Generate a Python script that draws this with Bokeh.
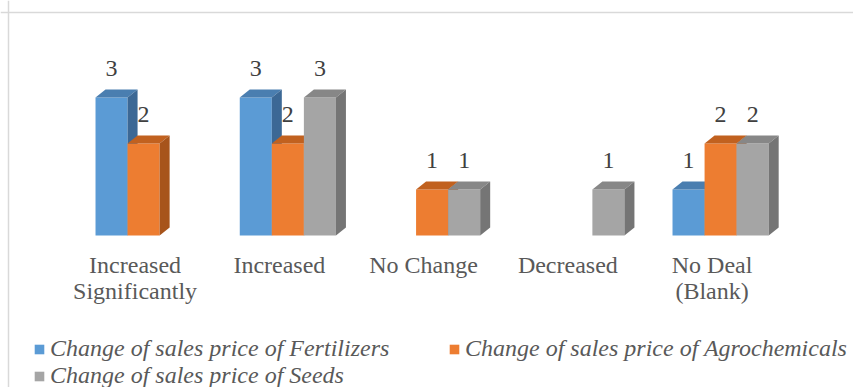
from bokeh.plotting import figure
from bokeh.models import Range1d, Span, Legend, LegendItem
from bokeh.embed import file_html
from bokeh.resources import INLINE
from bokeh.core.properties import value

# ---- data -------------------------------------------------------------
categories = ["Increased\nSignificantly", "Increased", "No Change",
              "Decreased", "No Deal\n(Blank)"]
series_names = ["Change of sales price of Fertilizers",
                "Change of sales price of Agrochemicals",
                "Change of sales price of Seeds"]
fertilizers = [3, 3, 0, 0, 1]
agrochemicals = [2, 2, 1, 0, 2]
seeds = [0, 3, 1, 1, 2]

# ---- styling ------------------------------------------------------------
front_colors = ["#5B9BD5", "#ED7D31", "#A5A5A5"]
top_colors = ["#4A7EB0", "#C1611F", "#878787"]
side_colors = ["#3C6895", "#A7541B", "#757575"]
FONT = "'Liberation Serif', 'Times New Roman', serif"
FONT_SIZE = "24px"
TEXT_COLOR = "#595959"

W, H = 853, 387
PX_X = 144.25      # pixels per category step
PX_Y = 46.0        # pixels per count unit
ORIGIN_X = 143.1   # pixel x of first category centre
BASE_Y = 235.0     # pixel y (from top) of the zero line

x0 = -ORIGIN_X / PX_X
y1 = BASE_Y / PX_Y
p = figure(width=W, height=H,
           x_range=Range1d(x0, x0 + W / PX_X),
           y_range=Range1d(y1 - H / PX_Y, y1),
           x_axis_type=None, y_axis_type=None,
           output_backend="svg", toolbar_location=None,
           min_border=0, min_border_left=0, min_border_right=0,
           min_border_top=0, min_border_bottom=0)
p.grid.visible = False
p.outline_line_color = None
p.background_fill_color = "white"
p.border_fill_color = "white"


def px_x(px):
    return x0 + px / PX_X


def px_y(py):
    return y1 - py / PX_Y


# chart-area border (top and left edges visible)
p.add_layout(Span(location=px_y(12), dimension="width",
                  line_color="#D9D9D9", line_width=1.5))
p.add_layout(Span(location=px_x(8), dimension="height",
                  line_color="#D9D9D9", line_width=1.5))

# ---- 3-D bars -----------------------------------------------------------
bar_w = 1 / 4.5            # gap width 150 %
dx = 10 / PX_X             # depth offset to the right
dy = 8 / PX_Y              # depth offset upwards
label_off = 29 / PX_Y

front_renderers = []
for k, vals in enumerate([fertilizers, agrochemicals, seeds]):
    lefts, rights, tops = [], [], []
    top_xs, top_ys, side_xs, side_ys = [], [], [], []
    lab_x, lab_y, lab_t = [], [], []
    for i, v in enumerate(vals):
        if v <= 0:
            continue
        l = i - 1.5 * bar_w + k * bar_w
        r = l + bar_w
        lefts.append(l)
        rights.append(r)
        tops.append(v)
        top_xs.append([l, r, r + dx, l + dx])
        top_ys.append([v, v, v + dy, v + dy])
        side_xs.append([r, r, r + dx, r + dx])
        side_ys.append([0, v, v + dy, dy])
        lab_x.append((l + r) / 2)
        lab_y.append(v + label_off)
        lab_t.append(str(v))
    fr = p.quad(left=lefts, right=rights, bottom=[0] * len(tops), top=tops,
                fill_color=front_colors[k], line_color=None)
    p.patches(xs=top_xs, ys=top_ys, fill_color=top_colors[k], line_color=None)
    p.patches(xs=side_xs, ys=side_ys, fill_color=side_colors[k], line_color=None)
    p.text(x=lab_x, y=lab_y, text=lab_t, text_font=value(FONT),
           text_font_size=FONT_SIZE, text_color="#404040",
           text_align="center", text_baseline="middle")
    front_renderers.append(fr)

# ---- category labels ---------------------------------------------------
p.text(x=[i - 8.5 / PX_X for i in range(len(categories))],
       y=[px_y(251)] * len(categories), text=categories,
       text_font=value(FONT), text_font_size=FONT_SIZE, text_color=TEXT_COLOR,
       text_align="center", text_baseline="top", text_line_height=1.0)

# ---- legend -------------------------------------------------------------
legend_pos = [(33, 25), (448, 25), (33, -2)]
for k, name in enumerate(series_names):
    lg = Legend(items=[LegendItem(label=name, renderers=[front_renderers[k]])],
                location=legend_pos[k], orientation="horizontal",
                glyph_width=12, glyph_height=12, label_standoff=5,
                label_height=12, padding=0, margin=0, spacing=0,
                border_line_color=None, background_fill_alpha=0,
                label_text_font=FONT, label_text_font_style="italic",
                label_text_font_size=FONT_SIZE, label_text_color=TEXT_COLOR)
    p.add_layout(lg)

open("out.html", "w").write(file_html(p, INLINE))
